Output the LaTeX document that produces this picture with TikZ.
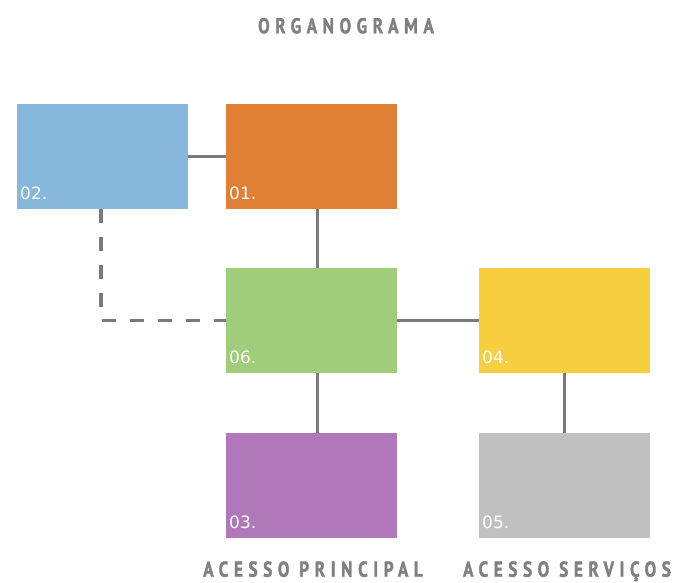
\documentclass[tikz,border=0pt]{standalone}
\usepackage{fontspec}
\setmainfont{Liberation Sans}
\newfontfamily\tituloFonte[LetterSpace=26,FakeStretch=0.8,FakeBold=1.6]{PT Sans}
\newfontfamily\rotuloFonte{DejaVu Sans}
\usetikzlibrary{positioning}

\definecolor{azul}{HTML}{85B8DA}
\definecolor{laranja}{HTML}{E08035}
\definecolor{verde}{HTML}{A0CD7A}
\definecolor{amarelo}{HTML}{F7CF3E}
\definecolor{roxo}{HTML}{B078BA}
\definecolor{cinza}{HTML}{C0C0C0}
\definecolor{traco}{HTML}{7A7A7A}
\definecolor{letra}{HTML}{808080}

\begin{document}
\begin{tikzpicture}[x=1pt,y=-1pt,
    bloco/.style={minimum width=171pt,minimum height=105pt,inner sep=0pt,outer sep=0pt},
    rotulo/.style={text=white,font=\rotuloFonte\fontsize{17}{18}\selectfont,anchor=base west,inner sep=0pt},
    titulo/.style={text=letra,font=\tituloFonte\bfseries\fontsize{21.5}{22}\selectfont,anchor=base,inner sep=0pt},
    linha/.style={draw=traco,line width=3pt},
    tracejado/.style={draw=traco,line width=3.5pt,dash pattern=on 14pt off 14pt}]
  \useasboundingbox (0,0) rectangle (677,583);

  \node[bloco,fill=azul,anchor=north west] (b02) at (17,104) {};
  \node[bloco,fill=laranja,right=38pt of b02] (b01) {};
  \node[bloco,fill=verde,below=59pt of b01] (b06) {};
  \node[bloco,fill=amarelo,right=82pt of b06] (b04) {};
  \node[bloco,fill=roxo,below=60pt of b06] (b03) {};
  \node[bloco,fill=cinza,below=60pt of b04] (b05) {};

  \node[rotulo] (t02) at ([shift={(3,-9.5)}]b02.south west) {02.};
  \node[rotulo] (t01) at ([shift={(3,-9.5)}]b01.south west) {01.};
  \node[rotulo] (t06) at ([shift={(3,-9.5)}]b06.south west) {06.};
  \node[rotulo] (t04) at ([shift={(3,-9.5)}]b04.south west) {04.};
  \node[rotulo] (t03) at ([shift={(3,-9.5)}]b03.south west) {03.};
  \node[rotulo] (t05) at ([shift={(3,-9.5)}]b05.south west) {05.};

  \node[titulo] (org) at (346,33.3) {ORGANOGRAMA};
  \node[titulo] (principal) at (313,576.7) {ACESSO PRINCIPAL};
  \node[titulo] (servicos) at (567,576.7) {ACESSO SERVIÇOS};

  \draw[linha] (b02) -- (b01);
  \draw[linha] ([xshift=6pt]b01.south) -- ([xshift=6pt]b06.north);
  \draw[linha] (b06) -- (b04);
  \draw[linha] ([xshift=6pt]b06.south) -- ([xshift=6pt]b03.north);
  \draw[linha] (b04) -- (b05);
  \draw[tracejado] ([xshift=-1.5pt]b02.south) |- (b06.west);
\end{tikzpicture}
\end{document}
